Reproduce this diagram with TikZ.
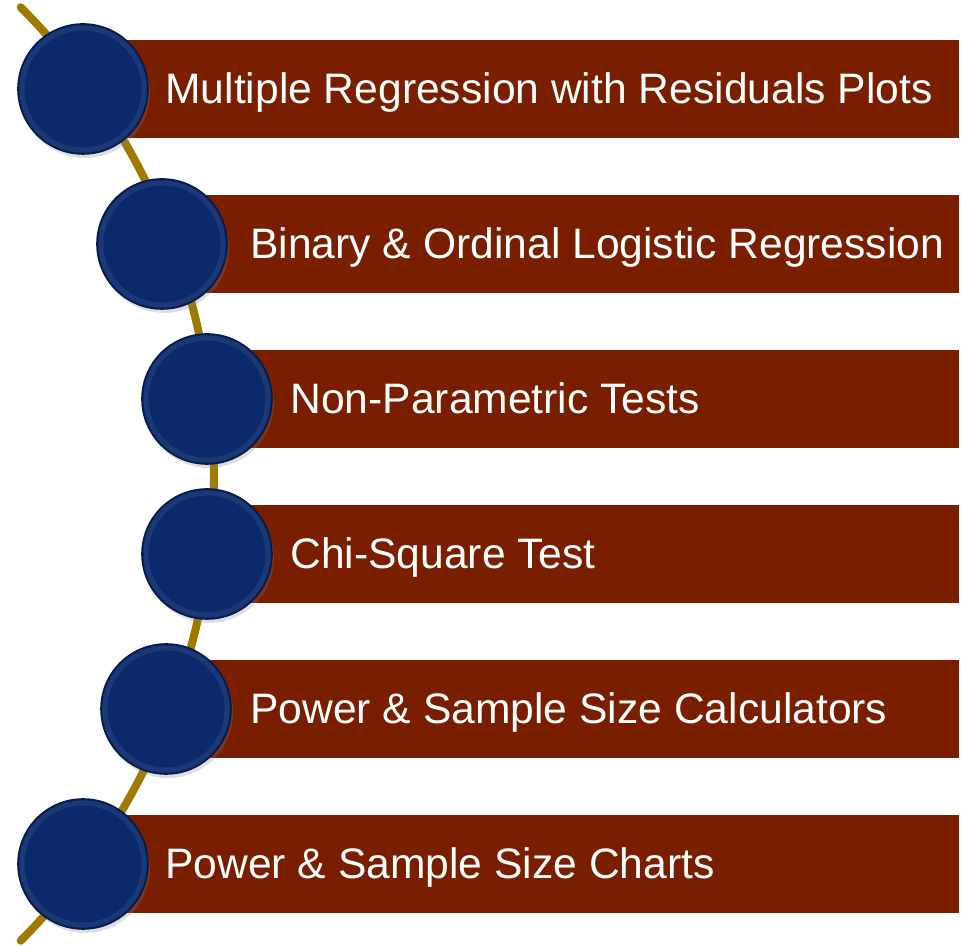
\documentclass[tikz,border=0pt]{standalone}
\usepackage{fontspec}
\setmainfont{Liberation Sans}
\usetikzlibrary{shadows}

\definecolor{barred}{RGB}{122,30,0}
\definecolor{dotblue}{RGB}{11,42,107}
\definecolor{dotrim}{RGB}{5,26,78}
\definecolor{pathgold}{RGB}{160,122,0}

\begin{document}
\begin{tikzpicture}[
  x=0.5pt, y=0.5pt,
  dot/.style={
    circle, fill=dotblue, draw=dotrim, line width=0.8pt,
    minimum size=65pt, inner sep=0pt,
    drop shadow={opacity=0.25, shadow xshift=1pt, shadow yshift=-2pt},
    path picture={\draw[white, opacity=0.07, line width=2.5pt]
      (path picture bounding box.center) circle (30.5pt);}
  },
  bar/.style={
    rectangle, fill=barred, anchor=west,
    minimum height=49pt, inner sep=0pt
  },
  lbl/.style={
    anchor=base west, text=white, inner sep=0pt,
    font=\fontsize{21.3}{25}\selectfont
  },
  trail/.style={draw=pathgold, line width=4pt, line cap=round},
]
\useasboundingbox (0,0) rectangle (961,945);

%% the gold arc behind everything
\coordinate (hub) at (-446,471);
\draw[trail] (hub) ++(45:660) arc[start angle=45, end angle=-45, radius=660];

%% bars
\node[bar, minimum width=438pt]   (bar1) at (83,856)  {};
\node[bar, minimum width=398.5pt] (bar2) at (162,701) {};
\node[bar, minimum width=376pt]   (bar3) at (207,546) {};
\node[bar, minimum width=376pt]   (bar4) at (207,391) {};
\node[bar, minimum width=396.5pt] (bar5) at (166,236) {};
\node[bar, minimum width=438pt]   (bar6) at (83,81)   {};

%% dots on the arc
\node[dot] (dot1) at (83,856)  {};
\node[dot] (dot2) at (162,701) {};
\node[dot] (dot3) at (207,546) {};
\node[dot] (dot4) at (207,391) {};
\node[dot] (dot5) at (166,236) {};
\node[dot] (dot6) at (83,81)   {};

%% labels
\node[lbl] (lbl1) at (165,841) {Multiple Regression with Residuals Plots};
\node[lbl] (lbl2) at (250,686) {Binary \& Ordinal Logistic Regression};
\node[lbl] (lbl3) at (290,531) {Non-Parametric Tests};
\node[lbl] (lbl4) at (290,376) {Chi-Square Test};
\node[lbl] (lbl5) at (250,221) {Power \& Sample Size Calculators};
\node[lbl] (lbl6) at (165,66)  {Power \& Sample Size Charts};
\end{tikzpicture}
\end{document}
